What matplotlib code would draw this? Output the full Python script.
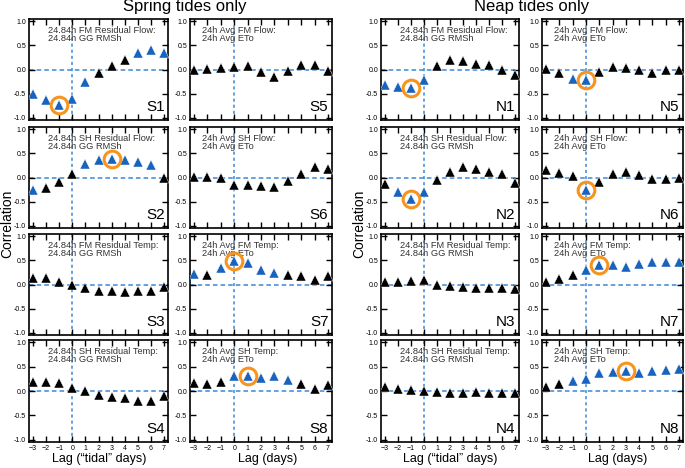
import matplotlib
matplotlib.use("Agg")
import matplotlib.pyplot as plt

plt.rcParams['font.family'] = ['Liberation Sans', 'DejaVu Sans']

# lags shown on every panel
lags = [-3, -2, -1, 0, 1, 2, 3, 4, 5, 6, 7]

# spring tides: correlation values, significant flags (1 = blue), circled lag
s1_vals = [-0.51, -0.63, -0.74, -0.62, -0.27, -0.07, 0.07, 0.19, 0.35, 0.41, 0.34]
s1_sig = [1, 1, 1, 1, 1, 0, 0, 0, 1, 1, 1]
s2_vals = [-0.27, -0.21, -0.10, 0.07, 0.28, 0.37, 0.38, 0.36, 0.32, 0.26, 0.00]
s2_sig = [1, 0, 0, 0, 1, 1, 1, 1, 1, 1, 0]
s3_vals = [0.14, 0.13, 0.06, -0.01, -0.07, -0.14, -0.14, -0.15, -0.14, -0.14, -0.06]
s3_sig = [0] * 11
s4_vals = [0.19, 0.19, 0.16, 0.07, 0.00, -0.08, -0.12, -0.14, -0.21, -0.21, -0.10]
s4_sig = [0] * 11
s5_vals = [0.00, 0.01, 0.03, 0.05, 0.07, -0.05, -0.16, -0.03, 0.09, 0.10, -0.03]
s5_sig = [0] * 11
s6_vals = [0.02, 0.01, -0.02, -0.15, -0.15, -0.17, -0.19, -0.07, 0.07, 0.21, 0.17]
s6_sig = [0] * 11
s7_vals = [0.22, 0.20, 0.35, 0.48, 0.45, 0.31, 0.23, 0.19, 0.17, 0.10, 0.17]
s7_sig = [1, 0, 1, 1, 1, 1, 1, 0, 0, 0, 0]
s8_vals = [0.17, 0.14, 0.19, 0.31, 0.31, 0.27, 0.31, 0.23, 0.15, 0.05, 0.12]
s8_sig = [0, 0, 0, 1, 1, 1, 1, 1, 0, 0, 0]

# neap tides
n1_vals = [-0.32, -0.37, -0.39, -0.22, 0.07, 0.20, 0.17, 0.12, 0.09, -0.01, -0.12]
n1_sig = [1, 1, 1, 1, 0, 0, 0, 0, 0, 0, 0]
n2_vals = [-0.14, -0.31, -0.45, -0.31, -0.06, 0.12, 0.21, 0.17, 0.12, 0.07, -0.12]
n2_sig = [0, 1, 1, 1, 0, 0, 0, 0, 0, 0, 0]
n3_vals = [0.05, 0.06, 0.07, 0.10, 0.00, -0.03, -0.05, -0.07, -0.08, -0.08, -0.09]
n3_sig = [0] * 11
n4_vals = [0.08, 0.05, 0.03, 0.00, -0.02, -0.05, -0.05, -0.03, -0.04, -0.05, -0.05]
n4_sig = [0] * 11
n5_vals = [0.01, -0.08, -0.20, -0.21, -0.05, 0.05, 0.03, -0.01, -0.07, 0.00, -0.02]
n5_sig = [0, 0, 1, 1, 0, 0, 0, 0, 0, 0, 0]
n6_vals = [0.16, 0.10, 0.03, -0.26, -0.10, 0.07, 0.11, 0.06, -0.03, -0.03, 0.00]
n6_sig = [0, 0, 0, 1, 0, 0, 0, 0, 0, 0, 0]
n7_vals = [0.06, 0.12, 0.20, 0.30, 0.40, 0.40, 0.37, 0.42, 0.46, 0.47, 0.46]
n7_sig = [0, 0, 0, 1, 1, 1, 1, 1, 1, 1, 1]
n8_vals = [0.08, 0.15, 0.20, 0.25, 0.37, 0.40, 0.42, 0.38, 0.42, 0.44, 0.45]
n8_sig = [0, 0, 1, 1, 1, 1, 1, 1, 1, 1, 1]

circled = {'S1': -1, 'S2': 3, 'S7': 0, 'S8': 1,
           'N1': -1, 'N2': -1, 'N5': 0, 'N6': 0, 'N7': 1, 'N8': 3}

left_texts = ["24.84h FM Residual Flow:\n24.84h GG RMSh",
              "24.84h SH Residual Flow:\n24.84h GG RMSh",
              "24.84h FM Residual Temp:\n24.84h GG RMSh",
              "24.84h SH Residual Temp:\n24.84h GG RMSh"]
right_texts = ["24h Avg FM Flow:\n24h Avg ETo",
               "24h Avg SH Flow:\n24h Avg ETo",
               "24h Avg FM Temp:\n24h Avg ETo",
               "24h Avg SH Temp:\n24h Avg ETo"]

spring = [(s1_vals, s1_sig), (s2_vals, s2_sig), (s3_vals, s3_sig), (s4_vals, s4_sig),
          (s5_vals, s5_sig), (s6_vals, s6_sig), (s7_vals, s7_sig), (s8_vals, s8_sig)]
neap = [(n1_vals, n1_sig), (n2_vals, n2_sig), (n3_vals, n3_sig), (n4_vals, n4_sig),
        (n5_vals, n5_sig), (n6_vals, n6_sig), (n7_vals, n7_sig), (n8_vals, n8_sig)]

W, H = 685, 468
fig = plt.figure(figsize=(W / 100, H / 100), dpi=100)

rows_px = [(19, 120), (127, 228), (234, 335), (340, 442)]
cols_px = {'S': [(29, 168), (190, 332)], 'N': [(381, 519), (542, 683)]}

blue = '#1763be'
line_blue = '#3b86d6'
orange = '#f7941d'


def make_panel(x0, x1, y0, y1, vals, sig, name, text, text_x, bottom):
    ax = fig.add_axes([x0 / W, 1 - y1 / H, (x1 - x0) / W, (y1 - y0) / H])
    ax.set_xlim(-3.3, 7.3)
    ax.set_ylim(-1.05, 1.05)
    ax.axhline(0, color=line_blue, lw=1.1, ls=(0, (3, 2)), zorder=1)
    ax.axvline(0, color=line_blue, lw=1.1, ls=(0, (2, 2)), zorder=1)
    for lag, v, s in zip(lags, vals, sig):
        ax.plot(lag, v, marker='^', ms=7, color=blue if s else 'black',
                mec='white', mew=0.3, ls='none', zorder=3)
    if name in circled:
        i = lags.index(circled[name])
        ax.plot(lags[i], vals[i], marker='o', ms=12, mfc='none', mec=orange,
                mew=2.2, ls='none', zorder=4)
    ax.text(text_x, 0.935, text, transform=ax.transAxes, fontsize=6.7,
            va='top', ha='left', color='#333333', linespacing=0.9, zorder=2)
    ax.text(0.975, 0.06, name, transform=ax.transAxes, fontsize=11,
            ha='right', va='bottom')
    ax.set_xticks(lags)
    ax.set_yticks([-1.0, -0.5, 0.0, 0.5, 1.0])
    ax.set_yticklabels(['-1.0', '-0.5', '0.0', '0.5', '1.0'])
    ax.tick_params(direction='in', top=True, right=True, length=4, width=1,
                   labelsize=5, pad=2)
    if not bottom:
        ax.set_xticklabels([])
    for sp in ax.spines.values():
        sp.set_linewidth(1.2)
    return ax


for group, data in (('S', spring), ('N', neap)):
    for c in range(2):
        x0, x1 = cols_px[group][c]
        for r in range(4):
            y0, y1 = rows_px[r]
            vals, sig = data[c * 4 + r]
            name = f"{group}{c * 4 + r + 1}"
            text = (left_texts if c == 0 else right_texts)[r]
            tx = 0.14 if c == 0 else 0.088
            make_panel(x0, x1, y0, y1, vals, sig, name, text, tx, r == 3)

# titles and axis labels
fig.text(185 / W, 1 - 11 / H, "Spring tides only", fontsize=12, ha='center', va='baseline')
fig.text(532 / W, 1 - 11 / H, "Neap tides only", fontsize=12, ha='center', va='baseline')
fig.text(7 / W, 1 - 224 / H, "Correlation", fontsize=10, rotation=90, ha='center', va='center')
fig.text(359 / W, 1 - 224 / H, "Correlation", fontsize=10, rotation=90, ha='center', va='center')
for xc in (99, 450):
    fig.text(xc / W, 1 - 459 / H, "Lag (\u201ctidal\u201d days)", fontsize=9, ha='center', va='center')
for xc in (268, 618):
    fig.text(xc / W, 1 - 459 / H, "Lag (days)", fontsize=9, ha='center', va='center')

fig.savefig("out.png", dpi=100)
